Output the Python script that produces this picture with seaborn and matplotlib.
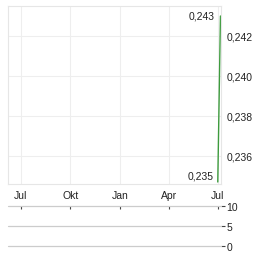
import matplotlib
matplotlib.use("Agg")
import matplotlib.pyplot as plt
import matplotlib.dates as mdates
import seaborn as sns
import pandas as pd
import numpy as np

# Data
dates = ["2024-07-01", "2024-07-06"]
prices = [0.2347, 0.2430]
high_label = "0,243"
low_label = "0,235"
x_tick_dates = ["2023-07-01", "2023-10-01", "2024-01-01", "2024-04-01", "2024-07-01"]
x_tick_labels = ["Jul", "Okt", "Jan", "Apr", "Jul"]
y_ticks = [0.236, 0.238, 0.240, 0.242]
y_tick_labels = ["0,236", "0,238", "0,240", "0,242"]
vol_ticks = [0, 5, 10]
vol_tick_labels = ["0", "5", "10"]

df = pd.DataFrame({"date": pd.to_datetime(dates), "price": prices})

sns.set_style("white")
plt.rcParams['font.family'] = ['Liberation Sans', 'DejaVu Sans']

W, H = 264, 255
fig = plt.figure(figsize=(W / 100, H / 100), dpi=100)

def box(l, t, r, b):
    return [l / W, 1 - b / H, (r - l) / W, (b - t) / H]

ax = fig.add_axes(box(8, 7, 221, 185))
sns.lineplot(data=df, x="date", y="price", ax=ax, color="#3d9b3d", linewidth=1.0)

xlim = (pd.Timestamp("2023-06-07"), pd.Timestamp("2024-07-07"))
ax.set_xlim(mdates.date2num(xlim[0]), mdates.date2num(xlim[1]))
ax.set_ylim(0.2346, 0.2435)
xt = mdates.date2num(pd.to_datetime(x_tick_dates))
ax.set_xticks(xt)
ax.set_xticklabels(x_tick_labels)
ax.set_yticks(y_ticks)
ax.set_yticklabels(y_tick_labels)
ax.yaxis.tick_right()
ax.set_xlabel("")
ax.set_ylabel("")
ax.grid(True, color="#eeeeee", linewidth=0.8)
for s in ax.spines.values():
    s.set_color("#e6e6e6")
    s.set_linewidth(0.8)
ax.tick_params(axis="y", length=0, labelsize=7.5, labelcolor="#222222", pad=4)
ax.tick_params(axis="x", length=0, labelsize=7.5, labelcolor="#222222", pad=4)

# high / low annotations
imax = int(np.argmax(prices))
imin = int(np.argmin(prices))
ax.annotate(high_label, (mdates.date2num(df["date"][imax]), prices[imax]),
            xytext=(-4, 0), textcoords="offset points", ha="right", va="center",
            fontsize=7.5, color="#222222")
ax.annotate(low_label, (mdates.date2num(df["date"][imin]), prices[imin]),
            xytext=(-3, 5), textcoords="offset points", ha="right", va="center",
            fontsize=7.5, color="#222222")

# volume panel
vax = fig.add_axes(box(8, 207, 221, 247))
vax.set_xlim(ax.get_xlim())
vax.set_ylim(0, 10)
for v in vol_ticks:
    vax.axhline(v, color="#cccccc", linewidth=0.9, clip_on=False)
vax.set_yticks(vol_ticks)
vax.set_yticklabels(vol_tick_labels)
vax.yaxis.tick_right()
vax.tick_params(axis="y", length=3, width=0.8, color="#444444", labelsize=7.5,
                labelcolor="#222222", pad=1)
vax.set_xticks(xt)
vax.xaxis.tick_top()
vax.tick_params(axis="x", direction="in", length=2, width=0.8, color="#444444",
                labeltop=False, labelbottom=False)
for s in vax.spines.values():
    s.set_visible(False)
vax.set_facecolor("none")

fig.savefig("out.png", dpi=100)
